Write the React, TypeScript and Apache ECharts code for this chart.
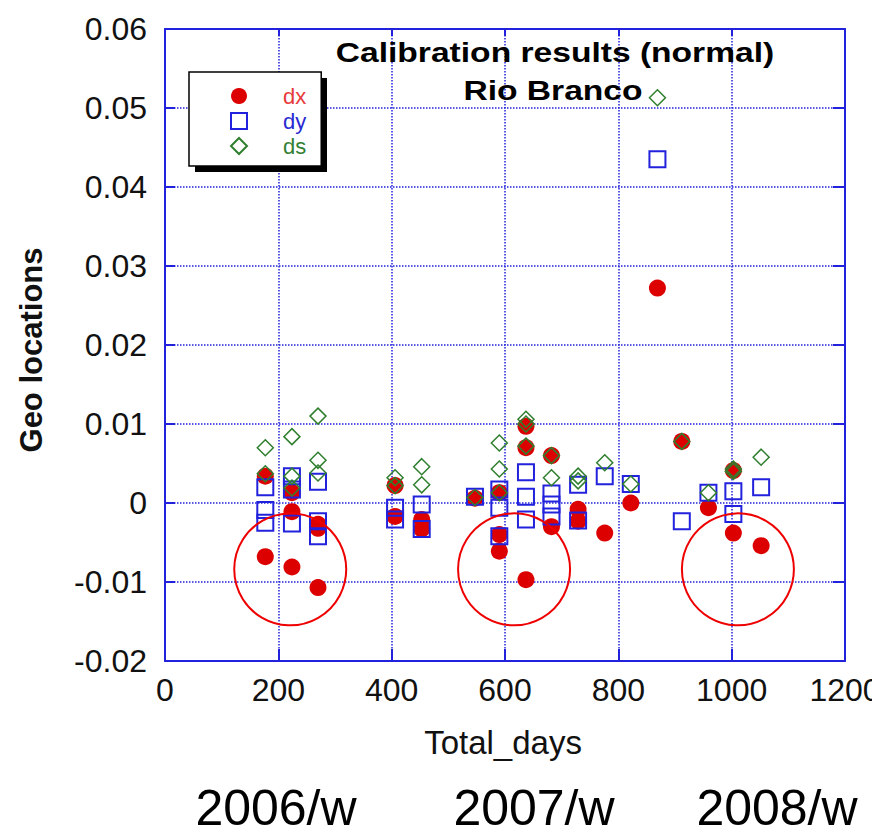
import React, { useEffect, useRef } from "react";
import * as echarts from "echarts";

const seriesNames = ["dx", "dy", "ds"];
const titleLines = ["Calibration results (normal)", "Rio Branco"];
const xAxisName = "Total_days";
const yAxisName = "Geo locations";
const yearLabels = ["2006/w", "2007/w", "2008/w"];

const dxPoints: [number, number][] = [
  [177, 0.0034], [177, -0.0068],
  [224, 0.0013], [224, -0.0011], [224, -0.0081],
  [270, -0.0027], [270, -0.0032], [270, -0.0107],
  [406, 0.0022], [406, -0.0017],
  [453, -0.0021], [453, -0.0033],
  [547, 0.0006],
  [590, 0.0013], [590, -0.004], [590, -0.0061],
  [637, 0.0097], [637, 0.007], [637, -0.0097],
  [682, 0.006], [682, -0.003],
  [729, -0.0008], [729, -0.0023],
  [776, -0.0038],
  [822, 0.0],
  [869, 0.0272],
  [912, 0.0078],
  [959, -0.0006],
  [1003, 0.0041], [1003, -0.0038],
  [1052, -0.0054],
];

const dyPoints: [number, number][] = [
  [177, 0.002], [177, -0.0009], [177, -0.0025],
  [224, 0.0034], [224, 0.0017], [224, -0.0026],
  [270, 0.0027], [270, -0.0023], [270, -0.0042],
  [406, -0.0006], [406, -0.0021],
  [453, -0.0002], [453, -0.0033],
  [547, 0.0008],
  [590, 0.0017], [590, -0.0006], [590, -0.0042],
  [637, 0.0039], [637, 0.0008], [637, -0.0021],
  [682, 0.0012], [682, -0.0002], [682, -0.0017],
  [729, 0.0023], [729, -0.0022],
  [776, 0.0034],
  [822, 0.0024],
  [869, 0.0435],
  [912, -0.0023],
  [959, 0.0013],
  [1003, 0.0015], [1003, -0.0014],
  [1052, 0.002],
];

const dsPoints: [number, number][] = [
  [177, 0.007], [177, 0.0037],
  [224, 0.0084], [224, 0.0034], [224, 0.0019],
  [270, 0.011], [270, 0.0054], [270, 0.0038],
  [406, 0.0032], [406, 0.0022],
  [453, 0.0046], [453, 0.0023],
  [547, 0.0007],
  [590, 0.0076], [590, 0.0043], [590, 0.0013],
  [637, 0.0106], [637, 0.01], [637, 0.0072],
  [682, 0.006], [682, 0.0032],
  [729, 0.0034], [729, 0.0028],
  [776, 0.0051],
  [822, 0.0024],
  [869, 0.0513],
  [912, 0.0078],
  [959, 0.0013],
  [1003, 0.0043], [1003, 0.004],
  [1052, 0.0058],
];

const circleCenters: [number, number][] = [
  [221, -0.0084],
  [616, -0.0084],
  [1011, -0.0084],
];

const FONT = "'Liberation Sans', Arial, Helvetica, sans-serif";
const BLUE = "#2222dd";
const RED = "#dd0000";
const GREEN = "#2f7f2f";

export default function App() {
  const ref = useRef<HTMLDivElement>(null);

  useEffect(() => {
    if (!ref.current) return;
    document.documentElement.style.overflow = "hidden";
    document.body.style.overflow = "hidden";
    document.body.style.margin = "0";
    const chart = echarts.init(ref.current, undefined, { renderer: "svg", width: 872, height: 835 });

    const axisLine = { show: true, onZero: false, lineStyle: { color: BLUE, width: 2 } };
    const splitLine = { show: true, lineStyle: { color: BLUE, type: "dotted", width: 1.5 } };

    chart.setOption({
      animation: false,
      backgroundColor: "#ffffff",
      grid: { left: 165, right: 27, top: 29, bottom: 174, containLabel: false, outerBoundsMode: "none" },
      xAxis: [
        {
          type: "value", min: 0, max: 1200, interval: 200, position: "bottom",
          axisLine, axisTick: { inside: true, length: 12, lineStyle: { color: BLUE, width: 2 } },
          axisLabel: { margin: 13, fontSize: 32, color: "#111", fontFamily: FONT, formatter: (v: number) => String(v) },
          splitLine,
        },
        {
          type: "value", min: 0, max: 1200, interval: 200, position: "top",
          axisLine, axisTick: { inside: true, length: 7, lineStyle: { color: BLUE, width: 2 } },
          axisLabel: { show: false }, splitLine: { show: false },
        },
      ],
      yAxis: [
        {
          type: "value", min: -0.02, max: 0.06, interval: 0.01, position: "left",
          axisLine, axisTick: { inside: true, length: 10, lineStyle: { color: BLUE, width: 2 } },
          axisLabel: {
            margin: 18, fontSize: 32, color: "#111", fontFamily: FONT, padding: [0, 0, 8, 0],
            formatter: (v: number) => (Math.abs(v) < 1e-9 ? "0" : String(parseFloat(v.toFixed(2)))),
          },
          splitLine,
        },
        {
          type: "value", min: -0.02, max: 0.06, interval: 0.01, position: "right",
          axisLine, axisTick: { inside: true, length: 12, lineStyle: { color: BLUE, width: 2 } },
          axisLabel: { show: false }, splitLine: { show: false },
        },
      ],
      legend: {
        orient: "vertical",
        left: 189,
        top: 72,
        padding: [12, 15, 8, 41],
        itemGap: 1,
        itemWidth: 16,
        itemHeight: 16,
        backgroundColor: "#fff",
        borderColor: "#000",
        borderWidth: 1.5,
        selectedMode: false,
        z: 6,
        textStyle: { fontSize: 22, lineHeight: 24, fontFamily: FONT, padding: [0, 0, 0, 31] },
        data: [
          { name: seriesNames[0], icon: "circle", textStyle: { color: "#e53b3b" } },
          { name: seriesNames[1], icon: "rect", textStyle: { color: "#2a2ad2" } },
          { name: seriesNames[2], icon: "diamond", textStyle: { color: "#357f35" } },
        ],
      },
      graphic: [
        {
          type: "rect", z: 5,
          shape: { x: 195, y: 78, width: 132, height: 94 },
          style: { fill: "#000" },
        },
        ...titleLines.map((t, i) => ({
          type: "text", z: 10,
          x: i === 0 ? 555 : 553, y: i === 0 ? 52 : 90,
          scaleX: 1.2,
          style: {
            text: t, fill: "#000", font: `bold 28px ${FONT}`,
            textAlign: "center", textVerticalAlign: "middle",
          },
        })),
        {
          type: "text", z: 10, x: 503, y: 742,
          style: { text: xAxisName, fill: "#111", font: `33px ${FONT}`, textAlign: "center", textVerticalAlign: "middle" },
        },
        {
          type: "text", z: 10, x: 31, y: 350, rotation: Math.PI / 2,
          style: { text: yAxisName, fill: "#111", font: `bold 31px ${FONT}`, textAlign: "center", textVerticalAlign: "middle" },
        },
        ...yearLabels.map((t, i) => ({
          type: "text", z: 10, x: [276, 534, 777][i], y: 808,
          style: { text: t, fill: "#000", font: `50px ${FONT}`, textAlign: "center", textVerticalAlign: "middle" },
        })),
      ],
      series: [
        {
          name: seriesNames[0], type: "scatter", data: dxPoints,
          symbol: "circle", symbolSize: 17,
          itemStyle: { color: RED, opacity: 1 },
        },
        {
          name: seriesNames[1], type: "scatter", data: dyPoints,
          symbol: "rect", symbolSize: 16,
          itemStyle: { color: "rgba(0,0,0,0)", borderColor: BLUE, borderWidth: 2, opacity: 1 },
        },
        {
          name: seriesNames[2], type: "scatter", data: dsPoints,
          symbol: "diamond", symbolSize: 16,
          itemStyle: { color: "rgba(0,0,0,0)", borderColor: GREEN, borderWidth: 1.5, opacity: 1 },
        },
        {
          name: "circles", type: "scatter", data: circleCenters, silent: true,
          symbol: "circle", symbolSize: 112,
          itemStyle: { color: "rgba(0,0,0,0)", borderColor: "#ee0000", borderWidth: 2, opacity: 1 },
        },
      ],
    });

    return () => chart.dispose();
  }, []);

  return (
    <div
      ref={ref}
      style={{ position: "fixed", left: 0, top: 0, width: 872, height: 835, background: "#fff" }}
    />
  );
}
